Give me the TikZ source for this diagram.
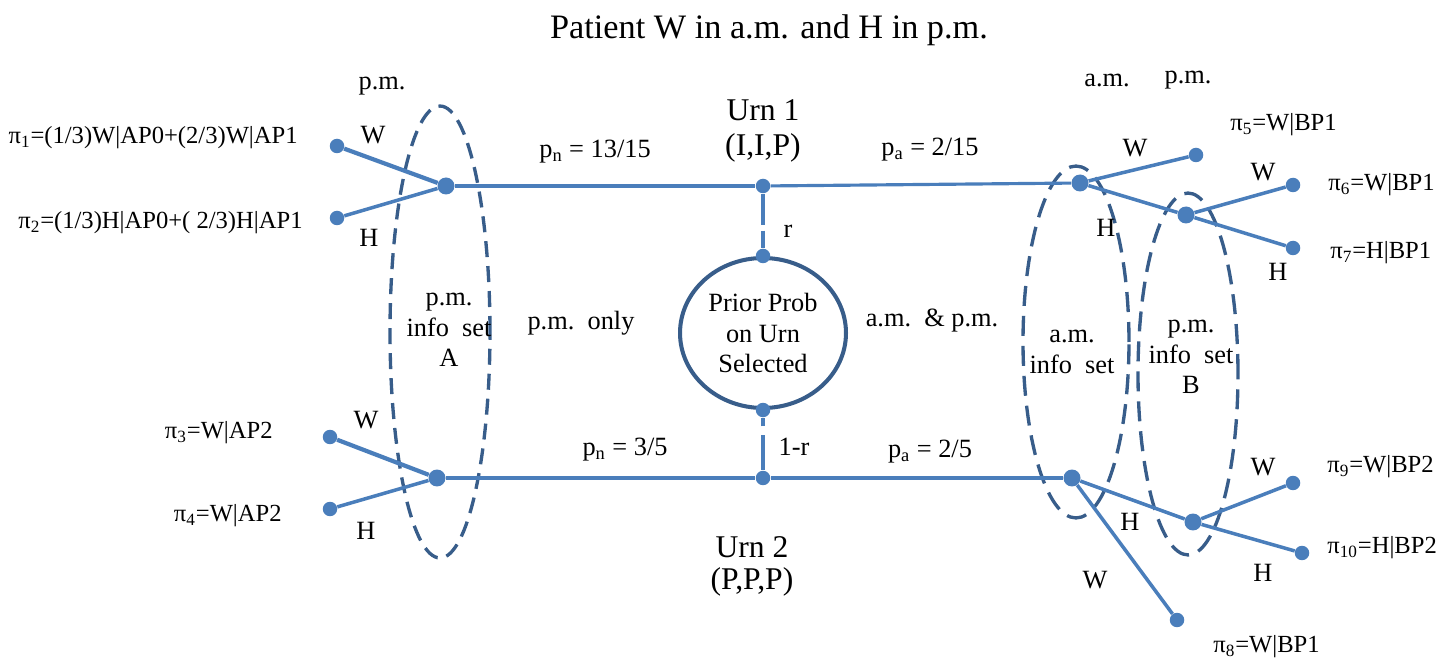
\documentclass[tikz,border=0pt]{standalone}
\usepackage{fontspec}
\setmainfont{Liberation Serif}
\usepackage{tikz}
\usetikzlibrary{shapes.geometric}
\definecolor{treeblue}{RGB}{74,126,187}
\definecolor{setblue}{RGB}{56,93,138}

\begin{document}
\begin{tikzpicture}[x=0.02cm, y=-0.02cm,
  dot/.style={circle, fill=treeblue, inner sep=0pt, minimum size=0.29cm},
  bigdot/.style={dot, minimum size=0.34cm},
  branch/.style={treeblue, line width=2pt},
  infoset/.style={setblue, line width=1.9pt, dash pattern=on 0.4cm off 0.2cm},
  lbl/.style={font=\fontsize{15}{17.5}\selectfont, inner sep=0pt, align=center},
  pay/.style={font=\fontsize{14}{17}\selectfont, inner sep=0pt},
  urn/.style={font=\fontsize{18}{20}\selectfont, inner sep=0pt}]
  \useasboundingbox (0,0) rectangle (1441,658);

  % Title and time headings
  \node[font=\fontsize{19.5}{22}\selectfont] (title) at (769,30) {Patient W in a.m. and H in p.m.};
  \node[lbl] (pmA) at (382,86) {p.m.};
  \node[lbl] (amB) at (1107,80) {a.m.};
  \node[lbl] (pmB) at (1188,80) {p.m.};

  % Information sets
  \draw[infoset, dash pattern=on 0.32cm off 0.18cm] (440,332) ellipse [x radius=1.0cm, y radius=4.52cm];
  \draw[infoset] (1076,342) ellipse [x radius=1.06cm, y radius=3.52cm];
  \draw[infoset] (1188,374) ellipse [x radius=1.0cm, y radius=3.62cm];
  \node[lbl] (setA) at (449,330) {p.m.\\info~~set\\A};
  \node[lbl] (setAM) at (1072,352) {a.m.\\info~~set};
  \node[lbl] (setB) at (1191,357) {p.m.\\info~~set\\B};

  % Prior on urns
  \node[draw=setblue, line width=2.3pt, ellipse, minimum width=3.32cm, minimum height=3.0cm, lbl] (prior) at (763,333) {Prior Prob\\on Urn\\Selected};
  \node[dot] (ptop) at (prior.north) {};
  \node[dot] (pbot) at (prior.south) {};
  \node[dot] (u1) at (763,186) {};
  \node[dot] (u2) at (763,478) {};
  \draw[branch, dash pattern=on 0.62cm off 0.12cm] (u1) -- (ptop);
  \draw[branch, dash pattern=on 0.7cm off 0.18cm] (u2) -- (pbot);
  \node[lbl] (r) at (788,231) {r};
  \node[lbl] (notr) at (794,447) {1-r};
  \node[urn] (urn1) at (763,110) {Urn 1};
  \node[urn] (comp1) at (763,148) {(I,I,P)};
  \node[urn] (urn2) at (752,547) {Urn 2};
  \node[urn] (comp2) at (752,582) {(P,P,P)};

  % p.m. only (left)
  \node[bigdot] (jA1) at (446,186) {};
  \node[dot] (l1) at (337,146) {};
  \node[dot] (l2) at (337,218) {};
  \node[bigdot] (jA2) at (437,478) {};
  \node[dot] (l3) at (330,437) {};
  \node[dot] (l4) at (330,509) {};
  \draw[branch, line width=2.4pt] (l1) -- (jA1);
  \draw[branch] (l2) -- (jA1);
  \draw[branch, line width=2.4pt] (l3) -- (jA2);
  \draw[branch] (l4) -- (jA2);
  \draw[branch, line width=1.8pt] (jA1) -- (u1);
  \draw[branch, line width=2.6pt] (jA2) -- (u2);
  \node[lbl] at (373,135) {W};
  \node[lbl] at (369,238) {H};
  \node[lbl] at (366,420) {W};
  \node[lbl] at (366,531) {H};
  \node[lbl] (pn1) at (595,152) {p\textsubscript{n} = 13/15};
  \node[lbl] (pn2) at (625,450) {p\textsubscript{n} = 3/5};
  \node[lbl] (pmonly) at (581,323) {p.m.~~only};
  \node[pay, anchor=east] (pi1) at (298,138) {π\textsubscript{1}=(1/3)W|AP0+(2/3)W|AP1};
  \node[pay, anchor=east] (pi2) at (303,223) {π\textsubscript{2}=(1/3)H|AP0+( 2/3)H|AP1};
  \node[pay, anchor=east] (pi3) at (273,433) {π\textsubscript{3}=W|AP2};
  \node[pay, anchor=east] (pi4) at (282,516) {π\textsubscript{4}=W|AP2};

  % a.m. & p.m. (right)
  \node[bigdot] (jB1) at (1080,183) {};
  \node[dot] (l5) at (1196,155) {};
  \node[bigdot] (kB1) at (1186,215) {};
  \node[dot] (l6) at (1293,185) {};
  \node[dot] (l7) at (1293,248) {};
  \node[bigdot] (jB2) at (1072,478) {};
  \node[dot] (l8) at (1177,620) {};
  \node[bigdot] (kB2) at (1193,522) {};
  \node[dot] (l9) at (1293,483) {};
  \node[dot] (l10) at (1302,553) {};
  \draw[branch, line width=1.8pt] (u1) -- (jB1);
  \draw[branch, line width=2.6pt] (u2) -- (jB2);
  \draw[branch] (jB1) -- (l5);
  \draw[branch] (jB1) -- (kB1);
  \draw[branch] (kB1) -- (l6);
  \draw[branch] (kB1) -- (l7);
  \draw[branch] (jB2) -- (l8);
  \draw[branch] (jB2) -- (kB2);
  \draw[branch] (kB2) -- (l9);
  \draw[branch] (kB2) -- (l10);
  \node[lbl] at (1135,148) {W};
  \node[lbl] at (1106,228) {H};
  \node[lbl] at (1263,172) {W};
  \node[lbl] at (1278,272) {H};
  \node[lbl] at (1263,467) {W};
  \node[lbl] at (1263,573) {H};
  \node[lbl] at (1130,522) {H};
  \node[lbl] at (1095,580) {W};
  \node[lbl] (pa1) at (930,150) {p\textsubscript{a} = 2/15};
  \node[lbl] (pa2) at (930,452) {p\textsubscript{a} = 2/5};
  \node[lbl] (ampm) at (932,321) {a.m.~~\&~p.m.};
  \node[pay, anchor=west] (pi5) at (1230,125) {π\textsubscript{5}=W|BP1};
  \node[pay, anchor=west] (pi6) at (1328,185) {π\textsubscript{6}=W|BP1};
  \node[pay, anchor=west] (pi7) at (1330,253) {π\textsubscript{7}=H|BP1};
  \node[pay, anchor=west] (pi8) at (1213,647) {π\textsubscript{8}=W|BP1};
  \node[pay, anchor=west] (pi9) at (1327,467) {π\textsubscript{9}=W|BP2};
  \node[pay, anchor=west] (pi10) at (1327,548) {π\textsubscript{10}=H|BP2};
\end{tikzpicture}
\end{document}
